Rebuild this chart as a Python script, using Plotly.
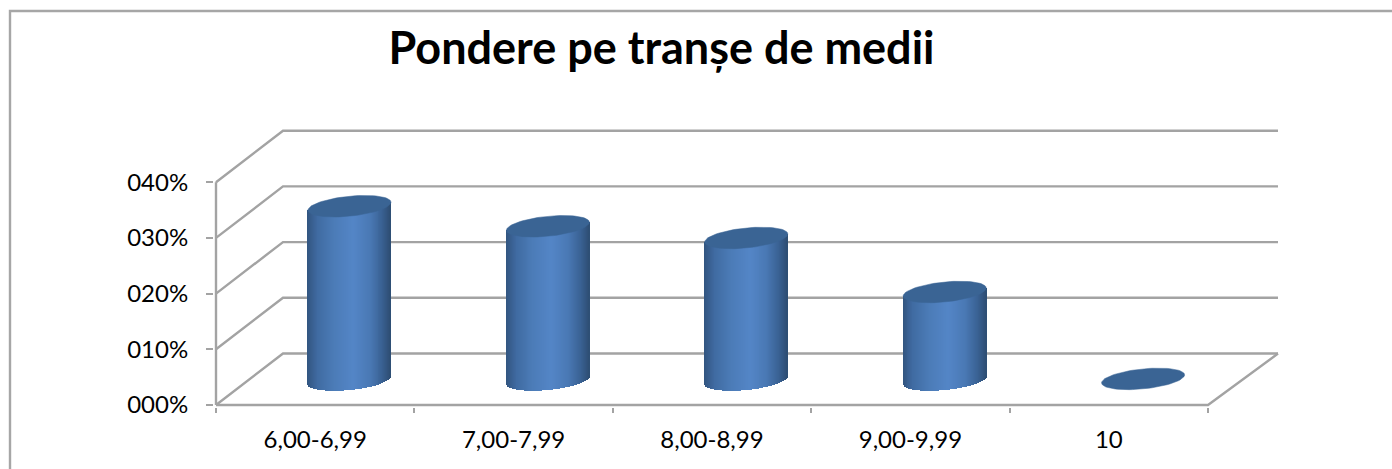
import numpy as np
import plotly.graph_objects as go

categories = ["6,00-6,99", "7,00-7,99", "8,00-8,99", "9,00-9,99", "10"]
values = [31.2, 27.6, 25.5, 15.8, 0.2]
y_ticks = [0, 10, 20, 30, 40]
y_labels = ["000%", "010%", "020%", "030%", "040%"]

PX_X = 198.4
PX_Y = 5.57
WALL_DX = 67 / PX_X
WALL_DY = 51.5 / PX_Y
COL_DX = 34.3 / PX_X
COL_DY = 25 / PX_Y
A = 41.5 / PX_X
B = 10 / PX_Y
S = 4 / PX_Y
STRIPS = 84
GRID = "#a3a3a3"
CAP = "#3a6494"

stops_u = [-1.0, -0.75, -0.35, 0.1, 0.5, 0.8, 1.0]
stops_c = [(50, 85, 128), (64, 107, 162), (76, 124, 184), (84, 134, 199),
           (74, 121, 181), (58, 98, 148), (46, 78, 116)]


def gradient(u):
    return "rgb(%d,%d,%d)" % tuple(np.interp(u, stops_u, [c[k] for c in stops_c]) for k in range(3))


fig = go.Figure()

# Cylinder sides: vertical strips shaded across the width
sx, sbase, sh, scol = [], [], [], []
edge = 1 - 1 / STRIPS
for i, v in enumerate(values):
    if v < 1:
        continue
    for u in np.linspace(-edge, edge, STRIPS):
        low = COL_DY + S * u - B * np.sqrt(max(0, 1 - u * u))
        top = COL_DY + v + S * u
        sx.append(i + COL_DX + A * u)
        sbase.append(low)
        sh.append(top - low)
        scol.append(gradient(u))
fig.add_bar(x=sx, y=sh, base=sbase, width=2 * A / STRIPS * 1.3,
            marker=dict(color=scol, line=dict(width=0)), hoverinfo="skip", showlegend=False)

# Cylinder caps
t = np.linspace(0, 2 * np.pi, 80)
for i, v in enumerate(values):
    fig.add_scatter(x=i + COL_DX + A * np.cos(t),
                    y=COL_DY + v + S * np.cos(t) + B * np.sin(t),
                    mode="lines", fill="toself", fillcolor=CAP,
                    line=dict(color=CAP, width=0.5), hoverinfo="skip", showlegend=False)

x0, x1 = -0.5, len(categories) - 0.5
shapes = []
line = dict(color=GRID, width=2.4)
for v in y_ticks:
    shapes.append(dict(type="path", xref="x", yref="y", layer="below", line=line,
                       path=f"M {x0} {v} L {x0 + WALL_DX} {v + WALL_DY} L {x1 + 70 / PX_X} {v + WALL_DY}"))
shapes.append(dict(type="line", xref="x", yref="y", layer="below", line=line,
                   x0=x0, x1=x0, y0=0, y1=y_ticks[-1]))
shapes.append(dict(type="path", xref="x", yref="y", layer="below", line=line,
                   path=f"M {x0} 0 L {x1} 0 L {x1 + 70 / PX_X} {WALL_DY}"))

# Chart frame, running off the top-right and bottom-left of the picture
PL, PR, PT, PB = 214, 1280, 128, 407
fx = (10 - PL) / (PR - PL)
fy = (PB - 11) / (PB - PT)
fy0 = (PB - 469) / (PB - PT)
fx1 = (1392 - PL) / (PR - PL)
shapes.append(dict(type="path", xref="paper", yref="paper", line=dict(color="#a6a6a6", width=2.4),
                   path=f"M {fx} {fy0} L {fx} {fy} L {fx1} {fy}"))

fig.update_layout(
    width=1392, height=469, autosize=False,
    margin=dict(l=PL, r=1392 - PR, t=PT, b=469 - PB, pad=0),
    paper_bgcolor="white", plot_bgcolor="white",
    showlegend=False, bargap=0, shapes=shapes,
    font=dict(family="Lato", size=24, color="black"),
    title=dict(text="<b>Pondere pe tranșe de medii</b>", x=661.5 / 1392, xanchor="center",
               xref="container", y=1 - 48 / 469, yanchor="middle",
               font=dict(family="Lato", size=45, color="black")),
    xaxis=dict(range=[x0 - 2 / PX_X, x0 + (PR - 216) / PX_X],
               tickvals=list(range(len(categories))), ticktext=categories,
               ticks="", showgrid=False, zeroline=False, showline=False,
               ticklabelstandoff=16, tickfont=dict(family="Lato", size=24),
               minor=dict(tickvals=[k - 0.5 for k in range(len(categories) + 1)], ticks="outside",
                          ticklen=5, tickwidth=2, tickcolor=GRID, showgrid=False)),
    yaxis=dict(range=[-2 / PX_Y, (405 - PT) / PX_Y],
               tickvals=y_ticks, ticktext=y_labels,
               ticks="outside", ticklen=7, tickwidth=2, tickcolor=GRID,
               showgrid=False, zeroline=False, showline=False,
               ticklabelstandoff=13, tickfont=dict(family="Lato", size=24)),
)

fig.write_html("out.html", config=dict(displayModeBar=False),
               post_script="document.body.style.margin='0';document.documentElement.style.overflow='hidden';")
